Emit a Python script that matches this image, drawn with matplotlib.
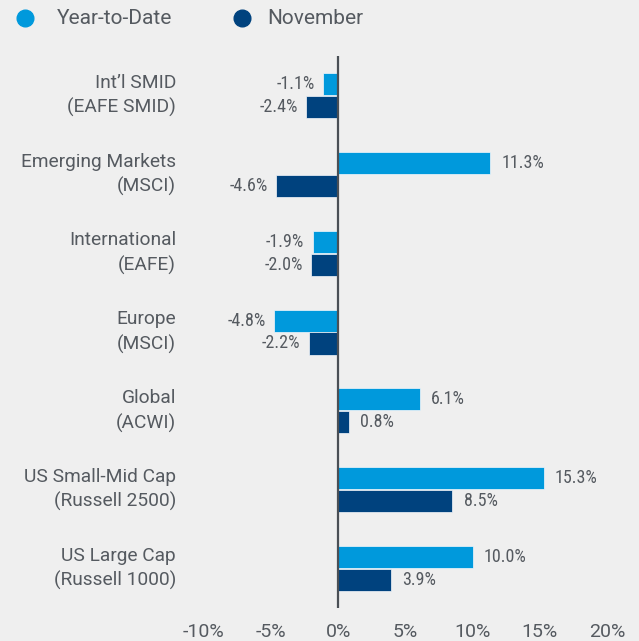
import numpy as np
import matplotlib
matplotlib.use("Agg")
import matplotlib.pyplot as plt
from matplotlib.lines import Line2D

#---------------------FONT and other graphics------------------------
plt.rcParams['font.family'] = ['Roboto', 'DejaVu Sans']
cond = ['Roboto Condensed', 'Roboto', 'DejaVu Sans']

#---------------------DATA------------------------
categories = ["Int\u2019l SMID\n(EAFE SMID)", "Emerging Markets\n(MSCI)",
              "International\n(EAFE)", "Europe\n(MSCI)", "Global\n(ACWI)",
              "US Small-Mid Cap\n(Russell 2500)", "US Large Cap\n(Russell 1000)"]
ytd = [-1.1, 11.3, -1.9, -4.8, 6.1, 15.3, 10.0]
november = [-2.4, -4.6, -2.0, -2.2, 0.8, 8.5, 3.9]
xticks = [-10, -5, 0, 5, 10, 15, 20]
series_names = ["Year-to-Date", "November"]

c_ytd = "#0099dc"
c_nov = "#00427e"
c_txt = "#555a60"
bg = "#efefef"

#------------Figure Layout--------------
fig = plt.figure(figsize=(6.39, 6.41), dpi=100, facecolor=bg)
ax = fig.add_axes([0.319, 0.0515, 0.631, 0.861])
ax.set_facecolor(bg)

y = np.arange(len(categories))
h = 0.28
ax.barh(y - 0.145, ytd, height=h, color=c_ytd, edgecolor="#f4f8fb", linewidth=0.5)
ax.barh(y + 0.145, november, height=h, color=c_nov, edgecolor="#f4f8fb", linewidth=0.5)

for yy, vals in ((y - 0.145, ytd), (y + 0.145, november)):
    for yi, v in zip(yy, vals):
        if v >= 0:
            ax.annotate(f"{v:.1f}%", (v, yi), xytext=(8, 0), textcoords="offset points",
                        ha="left", va="center", fontsize=13, color=c_txt, family=cond)
        else:
            ax.annotate(f"{v:.1f}%", (v, yi), xytext=(-6, 0), textcoords="offset points",
                        ha="right", va="center", fontsize=13, color=c_txt, family=cond)

ax.axvline(0, color="#4a4f55", linewidth=1.6)
ax.set_xlim(-10, 20)
ax.set_ylim(len(categories) - 0.5, -0.5)
ax.set_xticks(xticks)
ax.set_xticklabels([f"{t}%" for t in xticks])
ax.set_yticks(y)
ax.set_yticklabels(categories, linespacing=1.42, va="center")
ax.tick_params(axis="x", length=0, pad=11, labelsize=14, labelcolor=c_txt)
ax.tick_params(axis="y", length=0, pad=20, labelsize=13.8, labelcolor=c_txt)
for s in ax.spines.values():
    s.set_visible(False)

# legend, drawn by hand at the top
for xm, xt, col, name in ((25, 57, c_ytd, series_names[0]), (242, 267, c_nov, series_names[1])):
    fig.add_artist(Line2D([xm / 639], [1 - 18 / 641], marker="o", markersize=12,
                          color=col, linestyle="none", transform=fig.transFigure))
    fig.text(xt / 639, 1 - 18 / 641, name, ha="left", va="center",
             fontsize=15, color=c_txt)

fig.savefig("out.png", dpi=100, facecolor=bg)
